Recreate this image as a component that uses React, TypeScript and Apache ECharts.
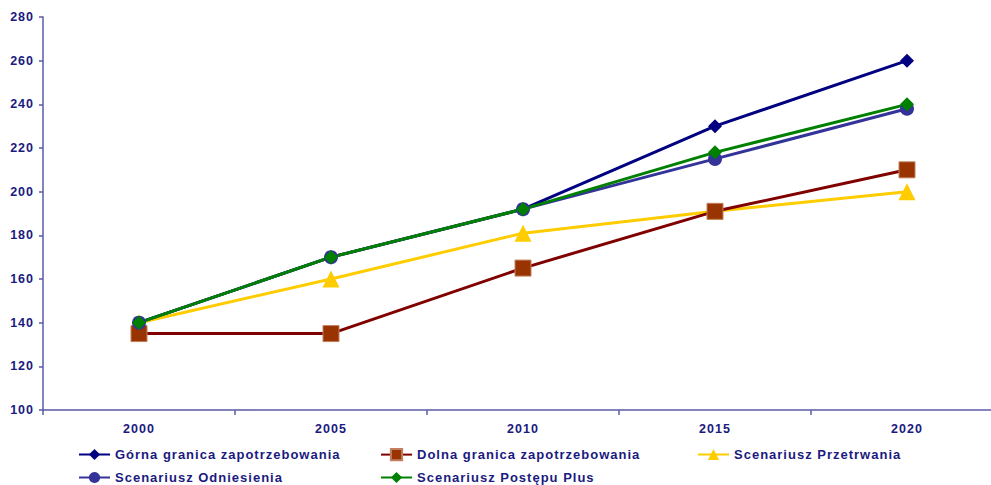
import React, { useEffect, useRef } from "react";
import * as echarts from "echarts";

const years = ["2000", "2005", "2010", "2015", "2020"];
const gornaGranica = [140, 170, 192, 230, 260];
const dolnaGranica = [135, 135, 165, 191, 210];
const przetrwania = [140, 160, 181, 191, 200];
const odniesienia = [140, 170, 192, 215, 238];
const postepuPlus = [140, 170, 192, 218, 240];

const NAMES = {
  gorna: "Górna granica zapotrzebowania",
  dolna: "Dolna granica zapotrzebowania",
  przetrwania: "Scenariusz Przetrwania",
  odniesienia: "Scenariusz Odniesienia",
  postepu: "Scenariusz Postępu Plus",
};

const TEXT = "#1a1a80";
const AXIS = "#5a5aa8";
const FONT = "'Liberation Sans', Arial, sans-serif";

export default function App() {
  const ref = useRef<HTMLDivElement>(null);

  useEffect(() => {
    if (!ref.current) return;
    const chart = echarts.init(ref.current, null, { renderer: "svg" });
    const legendText = { color: TEXT, fontFamily: FONT, fontWeight: "bold" as const, fontSize: 13 };
    // one legend entry per slot, laid out as a 3-column grid
    const legendItem = (name: string, left: number, top: number) => ({
      left,
      top,
      itemWidth: 31,
      itemHeight: 14,
      padding: 0,
      textStyle: legendText,
      data: [name],
    });
    const line = (name: string, data: number[], color: string, symbol: string, size: number, symColor: string, border?: string) => ({
      name,
      type: "line" as const,
      data,
      symbol,
      symbolSize: size,
      showAllSymbol: true,
      lineStyle: { color, width: 3 },
      itemStyle: border
        ? { color: symColor, borderColor: border, borderWidth: 1 }
        : { color: symColor, borderWidth: 0 },
      emphasis: { disabled: true },
    });

    chart.setOption({
      animation: false,
      grid: { left: 43, right: 7, top: 17, bottom: 75, containLabel: false },
      legend: [
        legendItem(NAMES.gorna, 78, 448),
        legendItem(NAMES.dolna, 380, 448),
        legendItem(NAMES.przetrwania, 697, 448),
        legendItem(NAMES.odniesienia, 78, 471),
        legendItem(NAMES.postepu, 380, 471),
      ],
      xAxis: {
        type: "category",
        data: years,
        boundaryGap: true,
        axisLine: { lineStyle: { color: AXIS, width: 1.5 } },
        axisTick: { show: true, length: 5, lineStyle: { color: AXIS, width: 1.5 } },
        axisLabel: { color: TEXT, fontFamily: FONT, fontWeight: "bold", fontSize: 12.5, margin: 12 },
        splitLine: { show: false },
      },
      yAxis: {
        type: "value",
        min: 100,
        max: 280,
        interval: 20,
        axisLine: { show: true, lineStyle: { color: AXIS, width: 1.5 } },
        axisTick: { show: true, length: 4, lineStyle: { color: AXIS, width: 1.5 } },
        axisLabel: { color: TEXT, fontFamily: FONT, fontWeight: "bold", fontSize: 12.5, margin: 9 },
        splitLine: { show: false },
      },
      series: [
        line(NAMES.gorna, gornaGranica, "#000080", "diamond", 14, "#000080"),
        line(NAMES.przetrwania, przetrwania, "#ffcc00", "triangle", 17, "#ffcc00"),
        line(NAMES.dolna, dolnaGranica, "#800000", "rect", 16, "#993300", "#c08060"),
        line(NAMES.odniesienia, odniesienia, "#333399", "circle", 14, "#333399"),
        line(NAMES.postepu, postepuPlus, "#008000", "diamond", 14, "#008000"),
      ],
    });
    return () => chart.dispose();
  }, []);

  return (
    <div style={{ position: "fixed", left: 0, top: 0, width: 991, height: 485, overflow: "hidden", background: "#fff" }}>
      <style>{".tracked svg text { letter-spacing: 1px; }"}</style>
      <div className="tracked" ref={ref} style={{ width: 1010, height: 485 }} />
    </div>
  );
}
